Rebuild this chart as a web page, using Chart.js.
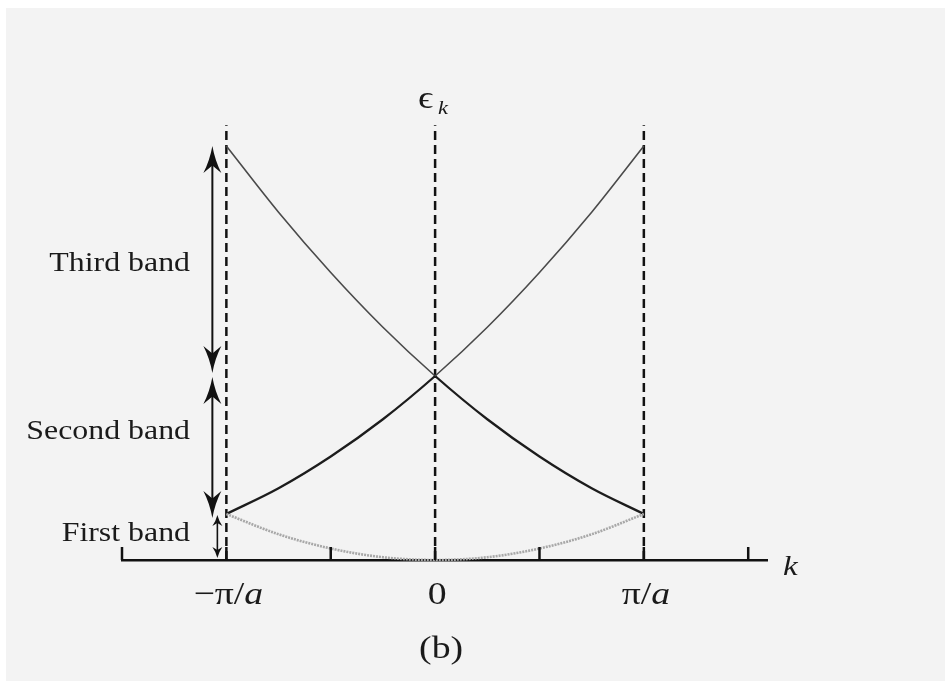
<!DOCTYPE html>
<html>
<head>
<meta charset="utf-8">
<script src="https://cdn.jsdelivr.net/npm/chart.js@4.4.1/dist/chart.umd.min.js"></script>
<style>
  html, body { margin: 0; padding: 0; background: #ffffff; }
  #wrap { position: relative; width: 945px; height: 681px; }
  canvas { display: block; }
</style>
</head>
<body>
<div id="wrap"><canvas id="bands" width="945" height="681"></canvas></div>
<script>
// Wave vector k in units of pi/a, sampled across the first Brillouin zone
const kValues = [-1, -0.75, -0.5, -0.25, 0, 0.25, 0.5, 0.75, 1];
// Energy eps_k in units of the first band's zone-edge energy
const firstBand      = [1.0, 0.56, 0.25, 0.06, 0.0, 0.06, 0.25, 0.56, 1.0];
const risingBranch   = [1.0, 1.56, 2.25, 3.06, 4.0, 5.06, 6.25, 7.56, 9.0];
const fallingBranch  = [9.0, 7.56, 6.25, 5.06, 4.0, 3.06, 2.25, 1.56, 1.0];
// Zone boundaries and centre (dashed verticals) and their top energy
const zoneLines = [-1, 0, 1];
const zoneLineTop = 9.45;
// Tick positions on the k axis and the labelled ones
const tickValues = [-1.5, -1, -0.5, 0, 0.5, 1, 1.5];
const tickLabelValues = [-1, 0, 1];
const tickLabelText = [['−π/', 'a'], ['0', ''], ['π/', 'a']];
// Band energy ranges: edges and names
const bandEdges = [0, 1, 4, 9];
const bandNames = ['First band', 'Second band', 'Third band'];

const SERIF = '"Liberation Serif", "DejaVu Serif", serif';
const STRETCH = 1.18;

function toPoints(ys) { return kValues.map((k, i) => ({ x: k, y: ys[i] })); }

function setFont(ctx, size, italic) {
  ctx.font = (italic ? 'italic ' : '') + size + 'px ' + SERIF;
}
// Draw a run of text pieces (upright / italic) with a slight horizontal stretch
function drawRuns(ctx, runs, x, baseline, align) {
  let w = 0;
  runs.forEach(r => { setFont(ctx, r.size, r.it); r.w = ctx.measureText(r.t).width; w += r.w; });
  const total = w * STRETCH;
  let x0 = x;
  if (align === 'center') x0 = x - total / 2;
  else if (align === 'right') x0 = x - total;
  ctx.save();
  ctx.translate(x0, baseline);
  ctx.scale(STRETCH, 1);
  let cx = 0;
  runs.forEach(r => {
    setFont(ctx, r.size, r.it);
    ctx.fillText(r.t, cx, r.dy || 0);
    cx += r.w;
  });
  ctx.restore();
}

function arrowHead(ctx, x, tipY, dir, len, half) {
  // dir = -1 points up, +1 points down
  const backY = tipY - dir * len;
  const notchY = tipY - dir * len * 0.72;
  ctx.beginPath();
  ctx.moveTo(x, tipY);
  ctx.quadraticCurveTo(x - half * 0.3, tipY - dir * len * 0.55, x - half, backY);
  ctx.lineTo(x, notchY);
  ctx.lineTo(x + half, backY);
  ctx.quadraticCurveTo(x + half * 0.3, tipY - dir * len * 0.55, x, tipY);
  ctx.closePath();
  ctx.fill();
}

function doubleArrow(ctx, x, yTop, yBot, len, half) {
  ctx.beginPath();
  ctx.moveTo(x, yTop + len * 0.6);
  ctx.lineTo(x, yBot - len * 0.6);
  ctx.stroke();
  arrowHead(ctx, x, yTop, -1, len, half);
  arrowHead(ctx, x, yBot, 1, len, half);
}

const paperPlugin = {
  id: 'paper',
  beforeDraw(chart) {
    const ctx = chart.ctx;
    ctx.save();
    ctx.fillStyle = '#ffffff';
    ctx.fillRect(0, 0, chart.width, chart.height);
    ctx.fillStyle = '#f3f3f3';
    ctx.fillRect(6, 8, chart.width - 6, chart.height - 8);
    ctx.restore();
  }
};

const annotationPlugin = {
  id: 'bandAnnotations',
  afterDraw(chart) {
    const ctx = chart.ctx;
    const xs = chart.scales.x, ys = chart.scales.y;
    const axisY = ys.getPixelForValue(0);
    ctx.save();
    ctx.strokeStyle = '#111';
    ctx.fillStyle = '#111';

    // upward tick marks on the k axis
    ctx.lineWidth = 2.5;
    tickValues.forEach(v => {
      const px = xs.getPixelForValue(v);
      ctx.beginPath();
      ctx.moveTo(px, axisY);
      ctx.lineTo(px, axisY - 13);
      ctx.stroke();
    });

    // band-width arrows
    const xEdge = xs.getPixelForValue(-1);
    const yE = bandEdges.map(e => ys.getPixelForValue(e));
    ctx.lineWidth = 2;
    doubleArrow(ctx, xEdge - 14, yE[3], yE[2] - 3, 27, 9);
    doubleArrow(ctx, xEdge - 14, yE[2] + 1, yE[1] + 4, 27, 9);
    ctx.lineWidth = 1.6;
    doubleArrow(ctx, xEdge - 9, yE[1] + 1, yE[0] - 2, 11, 5);

    // band names
    ctx.fillStyle = '#1a1a1a';
    ctx.textBaseline = 'alphabetic';
    const nameLevels = [0.6, 2.82, 6.48];
    bandNames.forEach((name, i) => {
      const y = ys.getPixelForValue(nameLevels[i]) + 9;
      drawRuns(ctx, [{ t: name, size: 27 }], 190, y, 'right');
    });

    // tick labels
    tickLabelValues.forEach((v, i) => {
      const px = xs.getPixelForValue(v) + (v === 0 ? 2 : 2);
      const parts = tickLabelText[i];
      const runs = [{ t: parts[0], size: 32 }];
      if (parts[1]) runs.push({ t: parts[1], size: 32, it: true });
      drawRuns(ctx, runs, px, axisY + 44, 'center');
    });

    // axis titles
    drawRuns(ctx, [{ t: 'k', size: 28, it: true }], 783, axisY + 15, 'left');
    const cx = xs.getPixelForValue(0);
    drawRuns(ctx, [{ t: 'ϵ', size: 32 }], cx - 17, 108, 'left');
    drawRuns(ctx, [{ t: 'k', size: 19, it: true }], cx + 3, 114, 'left');

    // panel caption
    drawRuns(ctx, [{ t: '(b)', size: 32 }], cx + 6, 658, 'center');
    ctx.restore();
  }
};

// Second-band stretches print darker than the third-band ones
const bandSegment = {
  borderColor: c => (Math.max(c.p0.parsed.y, c.p1.parsed.y) <= 4.01 ? '#1c1c1c' : '#4a4a4a'),
  borderWidth: c => (Math.max(c.p0.parsed.y, c.p1.parsed.y) <= 4.01 ? 2.3 : 1.6)
};

const curveStyle = {
  pointRadius: 0,
  borderWidth: 2,
  borderColor: '#262626',
  cubicInterpolationMode: 'monotone',
  fill: false,
  clip: false
};

const zoneDatasets = zoneLines.map(k => ({
  data: [{ x: k, y: 0 }, { x: k, y: zoneLineTop }],
  borderColor: '#111',
  borderWidth: 2.5,
  borderDash: [9, 5],
  pointRadius: 0,
  clip: false,
  order: 5
}));

function build() {
  new Chart(document.getElementById('bands'), {
    type: 'line',
    data: {
      datasets: [
        Object.assign({}, curveStyle, { label: 'first band', data: toPoints(firstBand), borderColor: '#a8a8a8', borderWidth: 2.6, borderDash: [2, 1], order: 1 }),
        Object.assign({}, curveStyle, { label: 'rising', data: toPoints(risingBranch), segment: bandSegment, order: 1 }),
        Object.assign({}, curveStyle, { label: 'falling', data: toPoints(fallingBranch), segment: bandSegment, order: 1 })
      ].concat(zoneDatasets)
    },
    options: {
      responsive: false,
      animation: false,
      devicePixelRatio: 1,
      layout: { padding: { left: 122, right: 178, top: 123, bottom: 121 } },
      plugins: { legend: { display: false }, tooltip: { enabled: false } },
      scales: {
        x: {
          type: 'linear',
          min: -1.5,
          max: 1.59,
          position: { y: 0 },
          grid: { display: false, drawTicks: false },
          border: { display: true, color: '#111', width: 2.6 },
          ticks: { display: false }
        },
        y: {
          type: 'linear',
          min: 0,
          max: 9.5,
          display: false
        }
      }
    },
    plugins: [paperPlugin, annotationPlugin]
  });
}

Promise.race([
  Promise.all([
    document.fonts.load('27px "Liberation Serif"'),
    document.fonts.load('italic 27px "Liberation Serif"')
  ]),
  new Promise(r => setTimeout(r, 800))
]).then(build, build);
</script>
</body>
</html>
